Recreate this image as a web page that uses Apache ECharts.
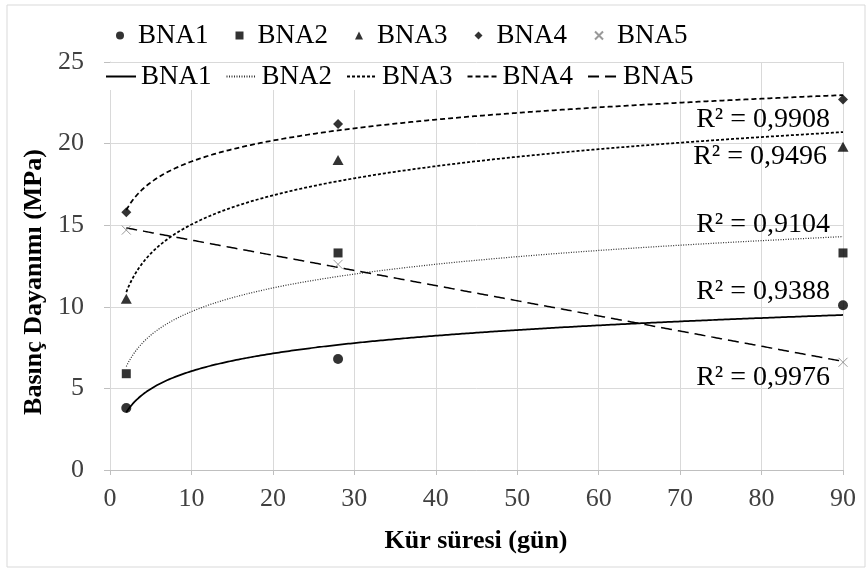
<!DOCTYPE html>
<html><head><meta charset="utf-8">
<script src="https://cdn.jsdelivr.net/npm/echarts@6/dist/echarts.min.js"></script>
<style>html,body{margin:0;padding:0;background:#fff}#c{width:867px;height:571px}</style>
</head><body><div id="c"></div>
<script>
// ---- data ----
const days = [2, 28, 90];
const seriesNames = ['BNA1', 'BNA2', 'BNA3', 'BNA4', 'BNA5'];
const bna1 = [3.8, 6.8, 10.1];
const bna2 = [5.9, 13.3, 13.3];
const bna3 = [10.5, 19.0, 19.8];
const bna4 = [15.8, 21.2, 22.7];
const bna5 = [14.7, 12.6, 6.6];
const trendTypes = ['log', 'log', 'log', 'log', 'linear'];
const r2Labels = ['R² = 0,9388', 'R² = 0,9104', 'R² = 0,9496', 'R² = 0,9908', 'R² = 0,9976'];
const xTitle = 'Kür süresi (gün)';
const yTitle = 'Basınç Dayanımı (MPa)';

const allValues = [bna1, bna2, bna3, bna4, bna5];
const FONT = 'Liberation Serif';

// least-squares trendline (as a spreadsheet trendline does)
function fitTrend(xs, ys, type) {
  const tx = xs.map(x => type === 'log' ? Math.log(x) : x);
  const n = tx.length;
  const mx = tx.reduce((a, b) => a + b, 0) / n;
  const my = ys.reduce((a, b) => a + b, 0) / n;
  let sxx = 0, sxy = 0;
  for (let i = 0; i < n; i++) { sxx += (tx[i] - mx) ** 2; sxy += (tx[i] - mx) * (ys[i] - my); }
  const a = sxy / sxx, b = my - a * mx;
  return x => a * (type === 'log' ? Math.log(x) : x) + b;
}
function trendPoints(xs, ys, type) {
  const f = fitTrend(xs, ys, type);
  const pts = [];
  const x0 = Math.min(...xs), x1 = Math.max(...xs);
  for (let x = x0; x <= x1 + 1e-9; x += 0.25) pts.push([x, f(x)]);
  return pts;
}

const markerStyles = [
  { symbol: 'circle', symbolSize: 10, itemStyle: { color: '#000' } },
  { symbol: 'rect', symbolSize: 9, itemStyle: { color: '#000' } },
  { symbol: 'triangle', symbolSize: [11, 10], itemStyle: { color: '#000' } },
  { symbol: 'diamond', symbolSize: [10, 10], itemStyle: { color: '#000' } },
  { symbol: 'path://M0,0L10,10M10,0L0,10', symbolSize: 9,
    itemStyle: { color: 'rgba(0,0,0,0)', borderColor: '#7f7f7f', borderWidth: 1 } }
];
const lineStyles = [
  { color: '#000', width: 1.75, type: 'solid' },
  { color: '#333', width: 1.25, type: [1, 1.5] },
  { color: '#000', width: 1.75, type: [3, 2] },
  { color: '#000', width: 1.75, type: [5, 3] },
  { color: '#000', width: 1.5, type: [11, 6] }
];

const series = [];
seriesNames.forEach((name, i) => {
  series.push(Object.assign({
    name: name, type: 'scatter', z: 4,
    data: days.map((d, j) => [d, allValues[i][j]])
  }, markerStyles[i]));
});
seriesNames.forEach((name, i) => {
  series.push({
    name: name + '_t', type: 'line', symbol: 'none', showSymbol: false, z: 3, silent: true,
    itemStyle: { color: lineStyles[i].color },
    lineStyle: lineStyles[i],
    data: trendPoints(days, allValues[i], trendTypes[i])
  });
});

const r2Pos = [[830, 292], [830, 225], [827, 157], [830, 120], [830, 378]];

const chart = echarts.init(document.getElementById('c'));
chart.setOption({
  animation: false,
  backgroundColor: '#fff',
  textStyle: { fontFamily: FONT },
  grid: { left: 110, right: 24, top: 62, bottom: 101, containLabel: false },
  legend: [
    { data: seriesNames, top: 22, left: 116, padding: 0, itemWidth: 8, itemHeight: 8, itemGap: 27,
      textStyle: { fontFamily: FONT, fontSize: 27, color: '#000', padding: [0, 0, 0, 9] } },
    { data: seriesNames.map(n => n + '_t'), top: 63, left: 105, padding: [0, 2, 0, 0],
      itemWidth: 30, itemHeight: 14, itemGap: 14, backgroundColor: '#fff',
      itemStyle: { color: 'rgba(0,0,0,0)', borderWidth: 0, opacity: 0 },
      formatter: n => n.replace('_t', ''),
      textStyle: { fontFamily: FONT, fontSize: 27, color: '#000', lineHeight: 20 } }
  ],
  xAxis: {
    type: 'value', min: 0, max: 90, interval: 10,
    axisLine: { lineStyle: { color: '#bfbfbf' } },
    axisTick: { show: true, length: 5, lineStyle: { color: '#bfbfbf' } },
    splitLine: { lineStyle: { color: '#d9d9d9' } },
    axisLabel: { fontFamily: FONT, fontSize: 26, color: '#404040', margin: 16 }
  },
  yAxis: {
    type: 'value', min: 0, max: 25, interval: 5,
    axisLine: { show: true, lineStyle: { color: '#d9d9d9' } },
    axisTick: { show: true, length: 6, lineStyle: { color: '#bfbfbf' } },
    splitLine: { lineStyle: { color: '#d9d9d9' } },
    axisLabel: { fontFamily: FONT, fontSize: 26, color: '#404040', margin: 26 }
  },
  graphic: [
    { type: 'rect', z: -10, shape: { x: 7, y: 5, width: 858, height: 562 },
      style: { fill: 'none', stroke: '#d9d9d9', lineWidth: 1 } },
    { type: 'text', x: 476, y: 541, style: { text: xTitle, font: 'bold 26px "Liberation Serif"', fill: '#000', align: 'center', verticalAlign: 'middle' } },
    { type: 'text', x: 34, y: 282, rotation: Math.PI / 2, style: { text: yTitle, font: 'bold 26px "Liberation Serif"', fill: '#000', align: 'center', verticalAlign: 'middle' } }
  ].concat(r2Labels.map((t, i) => ({
    type: 'text', z: 10, x: r2Pos[i][0], y: r2Pos[i][1],
    style: { text: t, font: '28px "Liberation Serif"', fill: '#000', align: 'right', verticalAlign: 'middle' }
  }))),
  series: series
});
</script>
</body></html>
